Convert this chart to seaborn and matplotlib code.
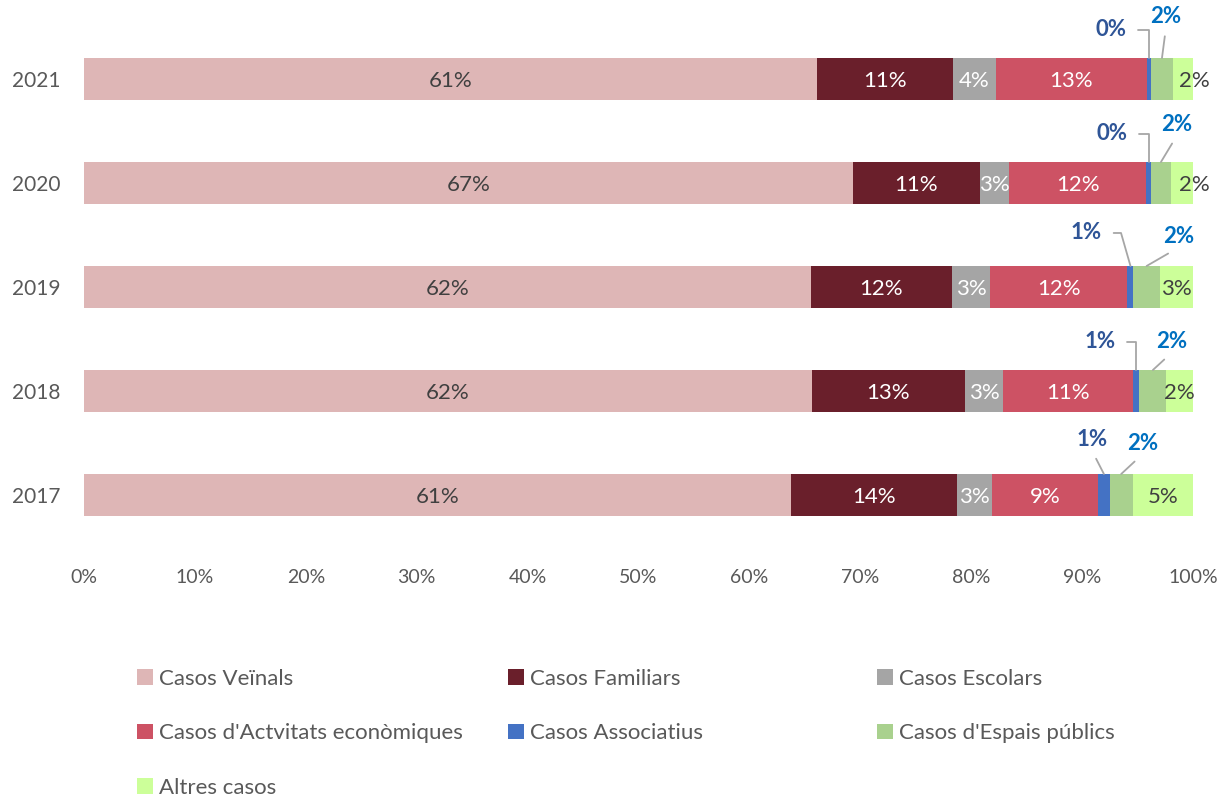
import numpy as np
import pandas as pd
import matplotlib.pyplot as plt
import seaborn as sns
from matplotlib.patches import Patch

years = ["2021", "2020", "2019", "2018", "2017"]
categories = ["Casos Veïnals", "Casos Familiars", "Casos Escolars",
              "Casos d'Actvitats econòmiques", "Casos Associatius",
              "Casos d'Espais públics", "Altres casos"]

# length of each segment (share of the bar)
veinals = [66.2, 69.3, 65.6, 65.6, 63.75]
familiars = [12.2, 11.45, 12.7, 13.86, 14.97]
escolars = [3.9, 2.7, 3.45, 3.43, 3.2]
activitats = [13.6, 12.35, 12.4, 11.7, 9.53]
associatius = [0.39, 0.42, 0.54, 0.57, 1.05]
espais = [2.0, 1.78, 2.37, 2.43, 2.07]
altres = [1.8, 2.0, 3.0, 2.4, 5.44]

# percentages printed on the chart
lab_veinals = [61, 67, 62, 62, 61]
lab_familiars = [11, 11, 12, 13, 14]
lab_escolars = [4, 3, 3, 3, 3]
lab_activitats = [13, 12, 12, 11, 9]
lab_associatius = [0, 0, 1, 1, 1]
lab_espais = [2, 2, 2, 2, 2]
lab_altres = [2, 2, 3, 2, 5]

colors = ["#DEB6B6", "#6A1F2B", "#A5A5A5", "#CD5264", "#4472C4", "#A9D18E", "#CCFF99"]
text_colors = ["#404040", "white", "white", "white", None, None, "#404040"]

sns.set_style("white")
plt.rcParams["font.family"] = ["Lato", "DejaVu Sans"]

df = pd.DataFrame(dict(zip(categories, [veinals, familiars, escolars, activitats,
                                         associatius, espais, altres])), index=years)
df = df.div(df.sum(axis=1), axis=0) * 100
cum = df.cumsum(axis=1)
left = cum - df
plot_df = cum.reset_index().rename(columns={"index": "year"})

labels = [lab_veinals, lab_familiars, lab_escolars, lab_activitats,
          lab_associatius, lab_espais, lab_altres]

fig = plt.figure(figsize=(12.23, 7.97), dpi=100)
ax = fig.add_axes([84 / 1223, 1 - 547 / 797, 1109 / 1223, 520 / 797])

bar_h = 0.404
# stacked look: draw cumulative bars from the longest to the shortest
for j in reversed(range(len(categories))):
    sns.barplot(data=plot_df, x=categories[j], y="year", order=years, orient="h",
                color=colors[j], saturation=1, width=bar_h, errorbar=None,
                linewidth=0, ax=ax)

# labels inside the bars
altres_shift = [11, 12, 0, 0, 0]  # pixels
for i, yr in enumerate(years):
    for j in [0, 1, 2, 3, 6]:
        xc = left.loc[yr].iloc[j] + df.loc[yr].iloc[j] / 2
        dx = altres_shift[i] if j == 6 else 0
        ax.annotate(f"{labels[j][i]}%", xy=(xc, i), xytext=(dx, -8),
                    textcoords="offset pixels", ha="center", va="baseline",
                    fontsize=16, color=text_colors[j])

# callout labels for the small segments
blue_dx = [-38, -37, -44, -36, -12]
blue_dy = [28, 28, 33, 28, 34]
blue_angle = [90, 90, 106, 90, None]
green_dx = [4, 16, 32, 19, 21]
green_dy = [41, 37, 29, 28, 30]
for i, yr in enumerate(years):
    top = i - bar_h / 2
    xb = left.loc[yr].iloc[4] + df.loc[yr].iloc[4] / 2
    if blue_angle[i] is None:
        arrow = dict(arrowstyle="-", color="#A6A6A6", lw=1.3, shrinkA=4, shrinkB=0,
                     relpos=(0.5, 0))
    else:
        arrow = dict(arrowstyle="-", color="#A6A6A6", lw=1.3, shrinkA=6, shrinkB=0,
                     relpos=(1, 0.5),
                     connectionstyle=f"angle,angleA=0,angleB={blue_angle[i]},rad=0")
    ax.annotate(f"{lab_associatius[i]}%", xy=(xb, top), xytext=(blue_dx[i], blue_dy[i]),
                textcoords="offset pixels", ha="center", va="center", fontsize=16,
                fontweight="bold", color="#2F5597", arrowprops=arrow)
    xg = left.loc[yr].iloc[5] + df.loc[yr].iloc[5] / 2
    ax.annotate(f"{lab_espais[i]}%", xy=(xg, top), xytext=(green_dx[i], green_dy[i]),
                textcoords="offset pixels", ha="center", va="center", fontsize=16,
                fontweight="bold", color="#0070C0",
                arrowprops=dict(arrowstyle="-", color="#A6A6A6", lw=1.3, shrinkA=4,
                                shrinkB=0, relpos=(0.5, 0)))

ax.set_xlim(0, 100)
ax.set_ylim(4.5, -0.5)
ax.set_xticks(np.arange(0, 101, 10))
ax.set_xticklabels([f"{v}%" for v in range(0, 101, 10)])
ax.set_xlabel("")
ax.set_ylabel("")
ax.tick_params(axis="x", length=0, labelsize=14, labelcolor="#595959", pad=16)
ax.tick_params(axis="y", length=0, labelsize=15, labelcolor="#595959", pad=17)
sns.despine(ax=ax, left=True, bottom=True)

# legend, three columns as in the original
cols = [[0, 3, 6], [1, 4], [2, 5]]
col_x = [137, 508, 877]
for c, xpx in zip(cols, col_x):
    handles = [Patch(facecolor=colors[j], edgecolor="none") for j in c]
    fig.legend(handles, [categories[j] for j in c], loc="upper left",
               bbox_to_anchor=(xpx / 1223, 1 - 669 / 797), frameon=False,
               fontsize=16, labelcolor="#595959", borderpad=0, borderaxespad=0,
               handlelength=0.7, handleheight=0.7, handletextpad=0.3,
               labelspacing=1.55)

fig.savefig("out.png", dpi=100)
